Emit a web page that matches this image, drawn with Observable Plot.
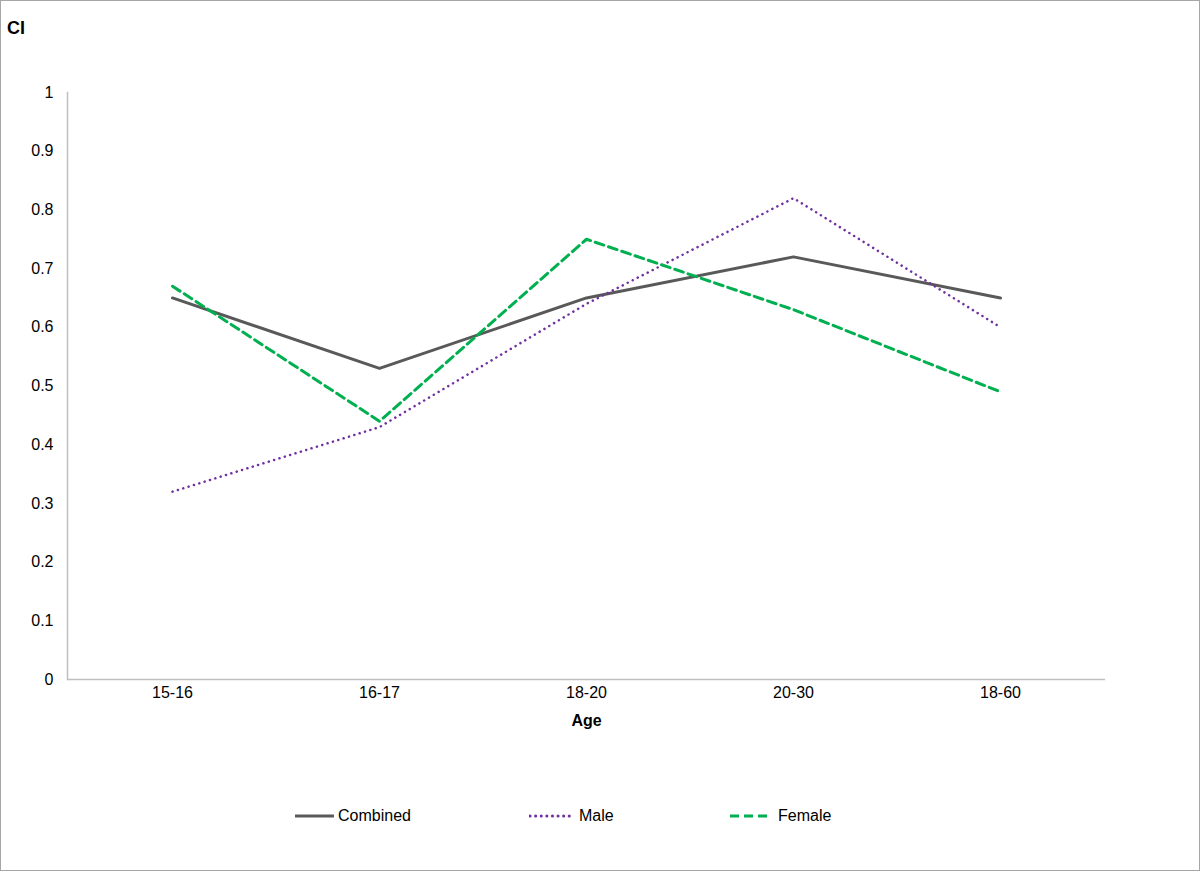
<!DOCTYPE html>
<html>
<head>
<meta charset="utf-8">
<script src="https://cdn.jsdelivr.net/npm/d3@7"></script>
<script src="https://cdn.jsdelivr.net/npm/@observablehq/plot@0.6"></script>
<style>
  html, body { margin: 0; padding: 0; background: #fff; }
  #wrap { position: relative; width: 1198px; height: 869px; border: 1px solid #a6a6a6; font-family: "Liberation Sans", Arial, sans-serif; }
  #title { position: absolute; left: 6px; top: 17px; font-size: 18px; font-weight: bold; color: #000; }
  #chart { position: absolute; left: 0; top: 0; }
  #legend { position: absolute; left: 0; top: 803px; width: 1198px; height: 24px; font-size: 16px; color: #000; }
  .item { position: absolute; top: 0; display: flex; align-items: center; height: 24px; }
  .item svg { margin-right: 4px; }
</style>
</head>
<body>
<div id="wrap">
  <div id="chart"></div>
  <div id="title">CI</div>
  <div id="legend"></div>
</div>
<script>
const ages = ["15-16", "16-17", "18-20", "20-30", "18-60"];
const combined = [0.65, 0.53, 0.65, 0.72, 0.65];
const male = [0.32, 0.43, 0.64, 0.82, 0.60];
const female = [0.67, 0.44, 0.75, 0.63, 0.49];
const yTicks = [0, 0.1, 0.2, 0.3, 0.4, 0.5, 0.6, 0.7, 0.8, 0.9, 1];
const seriesNames = ["Combined", "Male", "Female"];
const seriesColors = ["#595959", "#7030a0", "#00b050"];

const rows = (vals) => ages.map((a, i) => ({age: a, value: vals[i]}));

const chart = Plot.plot({
  width: 1198,
  height: 760,
  marginLeft: 66,
  marginRight: 94,
  marginTop: 91,
  marginBottom: 82,
  style: {fontFamily: "Liberation Sans, Arial, sans-serif", fontSize: "16px", color: "#000", background: "transparent"},
  x: {type: "point", domain: ages, padding: 0.5, label: null},
  y: {domain: [0, 1], label: null},
  marks: [
    Plot.frame({anchor: "left", stroke: "#bfbfbf", strokeWidth: 1.5}),
    Plot.axisY({ticks: yTicks, tickSize: 0, tickPadding: 14, tickFormat: d => String(+d.toFixed(1)), fill: "#000", label: null}),
    Plot.axisX({tickSize: 0, tickPadding: 7, fill: "#000", label: null}),
    Plot.ruleY([0], {stroke: "#bfbfbf", strokeWidth: 1.5}),
    Plot.text(["Age"], {frameAnchor: "bottom", dy: 46, text: d => d, fontWeight: "bold", fontSize: 16, fill: "#000"}),
    Plot.line(rows(combined), {x: "age", y: "value", stroke: seriesColors[0], strokeWidth: 3}),
    Plot.line(rows(male), {x: "age", y: "value", stroke: seriesColors[1], strokeWidth: 2.5, strokeDasharray: "0.1 5.5", strokeLinecap: "round"}),
    Plot.line(rows(female), {x: "age", y: "value", stroke: seriesColors[2], strokeWidth: 3, strokeDasharray: "9 5"})
  ]
});
document.getElementById("chart").appendChild(chart);

const legend = document.getElementById("legend");
const lx = [293, 528, 728];
const dashes = [null, "0.1 5.5", "9 5"];
const caps = ["butt", "round", "butt"];
const widths = [40, 41, 41];
const gaps = [4, 9, 8];
seriesNames.forEach((name, i) => {
  const item = document.createElement("div");
  item.className = "item";
  item.style.left = lx[i] + "px";
  const w = widths[i];
  item.innerHTML = `<svg width="${w + gaps[i]}" height="10" style="margin-right:0"><line x1="1" y1="5" x2="${w}" y2="5" stroke="${seriesColors[i]}" stroke-width="3" ${dashes[i] ? `stroke-dasharray="${dashes[i]}"` : ""} stroke-linecap="${caps[i]}"/></svg><span>${name}</span>`;
  legend.appendChild(item);
});
</script>
</body>
</html>
